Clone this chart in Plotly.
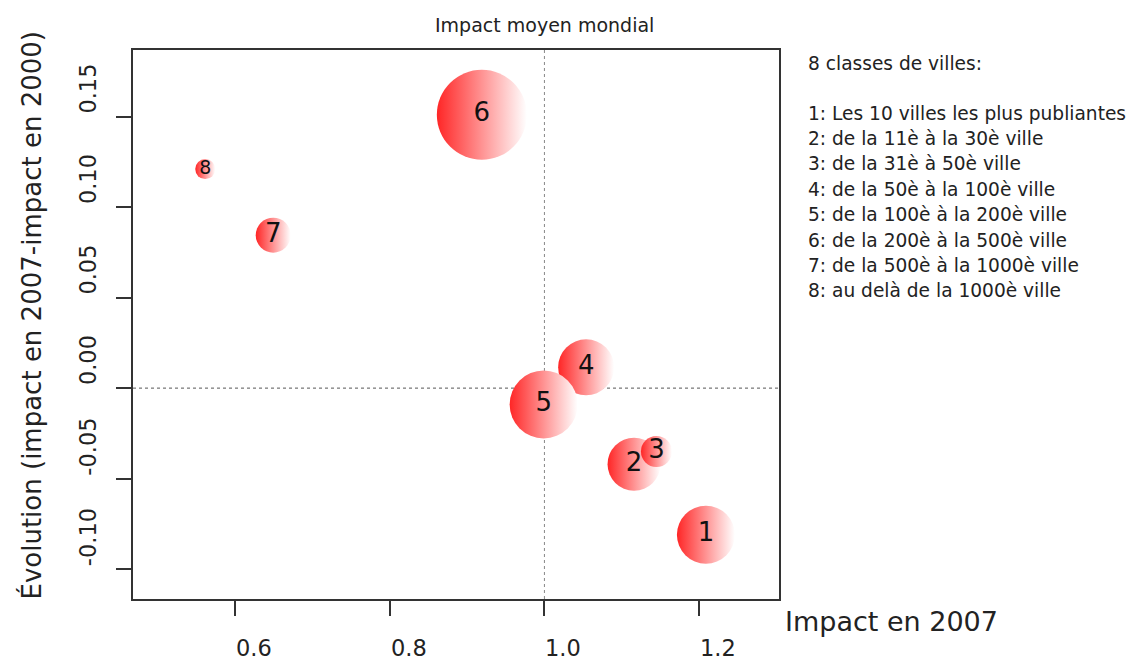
import plotly.graph_objects as go

# ---- data ----
classes = ["1", "2", "3", "4", "5", "6", "7", "8"]
impact_2007 = [1.209, 1.116, 1.145, 1.054, 0.999, 0.919, 0.649, 0.561]
evolution = [-0.081, -0.042, -0.035, 0.0115, -0.009, 0.151, 0.0845, 0.121]
bubble_size = [58, 53, 31, 56, 68, 90, 35, 20]

legend_title = "8 classes de villes:"
legend_lines = [
    "1: Les 10 villes les plus publiantes",
    "2: de la 11è à la 30è ville",
    "3: de la 31è à 50è ville",
    "4: de la 50è à la 100è ville",
    "5: de la 100è à la 200è ville",
    "6: de la 200è à la 500è ville",
    "7: de la 500è à la 1000è ville",
    "8: au delà de la 1000è ville",
]
x_ticks = [0.6, 0.8, 1.0, 1.2]
y_ticks = [-0.10, -0.05, 0.00, 0.05, 0.10, 0.15]

FONT = "DejaVu Sans"
TXT = "#222"
label_sizes = [26 if s > 25 else 19 for s in bubble_size]

fig = go.Figure()
fig.add_trace(go.Scatter(
    x=impact_2007, y=evolution, mode="markers+text",
    text=classes, textposition="middle center",
    textfont=dict(family=FONT, size=label_sizes, color="#111"),
    marker=dict(size=bubble_size, sizemode="diameter", color="#ff2626",
                gradient=dict(type="horizontal", color="white"),
                line=dict(width=0), opacity=1),
    hoverinfo="x+y+text", showlegend=False, cliponaxis=False,
))

fig.add_shape(type="line", xref="x", yref="paper", x0=1.0, x1=1.0, y0=0, y1=1,
              line=dict(color="#888", width=1, dash="dot"), layer="below")
fig.add_shape(type="line", xref="paper", yref="y", x0=0, x1=1, y0=0, y1=0,
              line=dict(color="#555", width=1, dash="dot"), layer="below")

annotations = [
    dict(text="Impact moyen mondial", xref="x", yref="paper", x=1.0, y=1.0,
         yanchor="middle", yshift=25, showarrow=False,
         font=dict(family=FONT, size=19, color=TXT)),
    dict(text="Impact en 2007", xref="paper", yref="paper", x=1.0, y=0, xanchor="left",
         yanchor="middle", xshift=4, yshift=-22, showarrow=False,
         font=dict(family=FONT, size=27, color=TXT)),
    dict(text="Évolution (impact en 2007-impact en 2000)", xref="paper", yref="paper",
         x=0, y=0.5, xanchor="center", yanchor="middle", xshift=-102, yshift=9,
         textangle=-90, showarrow=False,
         font=dict(family=FONT, size=26, color=TXT)),
    dict(text=legend_title, xref="paper", yref="paper", x=1.0, y=1.0, xanchor="left",
         yanchor="middle", xshift=27, yshift=-13, showarrow=False,
         font=dict(family=FONT, size=18.6, color=TXT)),
]
for i, line in enumerate(legend_lines):
    annotations.append(dict(text=line, xref="paper", yref="paper", x=1.0, y=1.0,
                            xanchor="left", yanchor="middle", xshift=27,
                            yshift=-63 - i * 25.4, showarrow=False,
                            font=dict(family=FONT, size=18.6, color=TXT)))
# tick labels: R-style, starting at the tick position
for v in x_ticks:
    annotations.append(dict(text=f"{v:.1f}", xref="x", yref="paper", x=v, y=0,
                            xanchor="left", yanchor="middle", xshift=-1, yshift=-49,
                            showarrow=False, font=dict(family=FONT, size=22.5, color=TXT)))
for v in y_ticks:
    annotations.append(dict(text=f"{v:.2f}", xref="paper", yref="y", x=0, y=v,
                            xanchor="center", yanchor="bottom", xshift=-45, yshift=1,
                            textangle=-90, showarrow=False,
                            font=dict(family=FONT, size=22.5, color=TXT)))

fig.update_layout(
    width=1132, height=652,
    margin=dict(l=125, r=361, t=42, b=61),
    paper_bgcolor="white", plot_bgcolor="white",
    font=dict(family=FONT, color=TXT),
    annotations=annotations,
    xaxis=dict(range=[0.4675, 1.3036], tickvals=x_ticks, showticklabels=False,
               ticks="outside", ticklen=15, tickwidth=1.5, tickcolor="#333",
               showline=True, linecolor="#333", linewidth=2, mirror=True,
               showgrid=False, zeroline=False),
    yaxis=dict(range=[-0.1165, 0.1868], tickvals=y_ticks, showticklabels=False,
               ticks="outside", ticklen=15, tickwidth=1.5, tickcolor="#333",
               showline=True, linecolor="#333", linewidth=2, mirror=True,
               showgrid=False, zeroline=False),
)

fig.write_html("out.html")
